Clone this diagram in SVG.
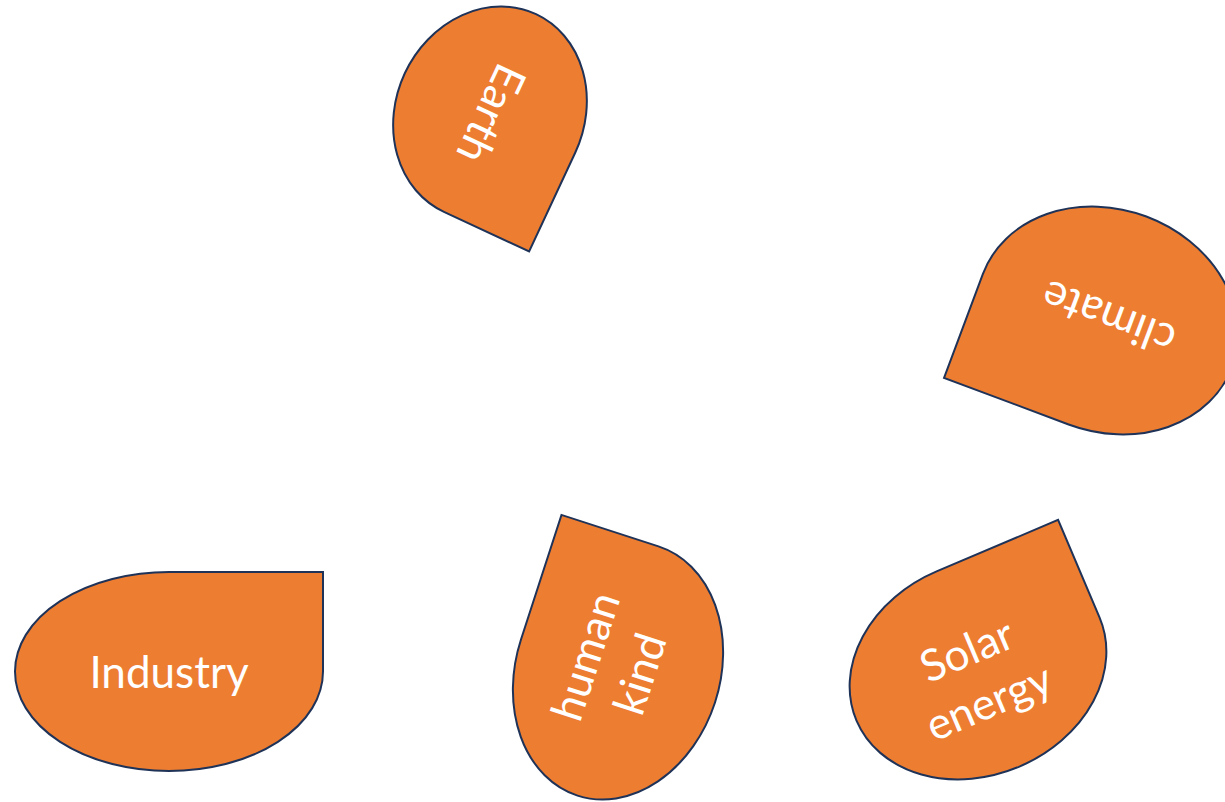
<svg xmlns="http://www.w3.org/2000/svg" width="1225" height="802" viewBox="0 0 1225 802">
  <style>
    .drop { fill: #ED7D31; stroke: #1F3358; stroke-width: 2; stroke-linejoin: miter; }
    .lbl { fill: #FFFFFF; font-family: Lato, "Open Sans", "Liberation Sans", sans-serif; font-size: 44px; text-anchor: middle; }
  </style>
  <rect width="1225" height="802" fill="#FFFFFF"/>
  <g id="earth" transform="translate(490,113) rotate(115)">
    <path class="drop" d="M -109,0 A 109 94 0 0 1 0,-94 L 109,-94 L 109,0 A 109 94 0 0 1 0,94 A 109 94 0 0 1 -109,0 Z"/>
    <text class="lbl" x="0" y="14">Earth</text>
  </g>
  <g id="climate" transform="translate(1107.5,320.5) rotate(200.5)">
    <path class="drop" d="M -133,0 A 133 111 0 0 1 0,-111 L 133,-111 L 133,0 A 133 111 0 0 1 0,111 A 133 111 0 0 1 -133,0 Z"/>
    <text class="lbl" x="0" y="18">climate</text>
  </g>
  <g id="humankind" transform="translate(618,671) rotate(288)">
    <path class="drop" d="M -131,0 A 131 102 0 0 1 0,-102 L 131,-102 L 131,0 A 131 102 0 0 1 0,102 A 131 102 0 0 1 -131,0 Z"/>
    <text class="lbl" x="4" y="-20">human</text>
    <text class="lbl" x="4" y="37">kind</text>
  </g>
  <g id="solar" transform="translate(978,669) rotate(-23)">
    <path class="drop" d="M -132,0 A 132 106 0 0 1 0,-106 L 132,-106 L 132,0 A 132 106 0 0 1 0,106 A 132 106 0 0 1 -132,0 Z"/>
    <text class="lbl" x="-3" y="-6">Solar</text>
    <text class="lbl" x="-3" y="50">energy</text>
  </g>
  <g id="industry" transform="translate(169,671.5)">
    <path class="drop" d="M -154,0 A 154 99.5 0 0 1 0,-99.5 L 154,-99.5 L 154,0 A 154 99.5 0 0 1 0,99.5 A 154 99.5 0 0 1 -154,0 Z"/>
    <text class="lbl" x="0" y="16">Industry</text>
  </g>
  <g id="connectors"/>
</svg>
